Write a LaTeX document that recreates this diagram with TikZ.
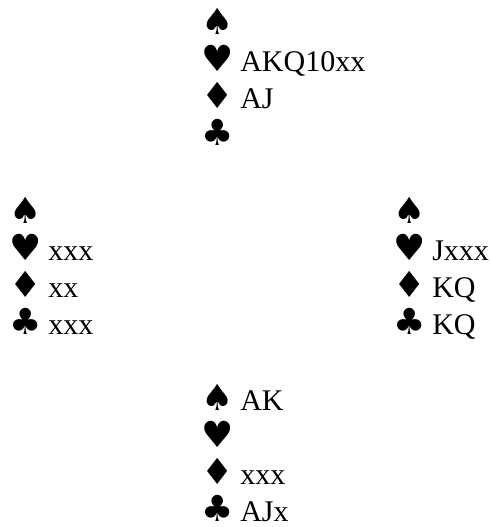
\documentclass[tikz,border=0pt]{standalone}
\usepackage{fontspec}
\setmainfont{Liberation Serif}
\newfontfamily\suitfont{DejaVu Sans}
\usepackage{tikz}

\newcommand{\handfont}{\fontsize{22.5pt}{27.75pt}\selectfont}
\newcommand{\suit}[1]{\makebox[26.25pt][l]{\hspace{-2.5pt}\smash{\suitfont\fontsize{27pt}{27pt}\selectfont #1}}}
\newcommand{\hand}[4]{\begin{tabular}[t]{@{}l@{}}\suit{♠}#1\\\suit{♥}#2\\\suit{♦}#3\\\suit{♣}#4\end{tabular}}

\begin{document}
\begin{tikzpicture}[x=0.75pt,y=-0.75pt, every node/.style={inner sep=0pt,anchor=base west,font=\handfont}]
  \useasboundingbox (0,0) rectangle (490,527);
  % the four hands
  \node (north) at (205,34.5) {\hand{}{AKQ10xx}{AJ}{}};
  \node (west) at (13,223.5) {\hand{}{xxx}{xx}{xxx}};
  \node (east) at (397,223.5) {\hand{}{Jxxx}{KQ}{KQ}};
  \node (south) at (205,410.5) {\hand{AK}{}{xxx}{AJx}};
\end{tikzpicture}
\end{document}
